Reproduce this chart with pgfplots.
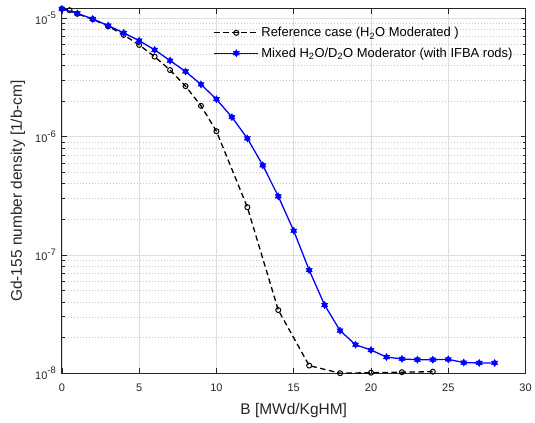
\documentclass[border=0pt]{standalone}
\usepackage{fontspec}
\setmainfont{Liberation Sans}
\usepackage{pgfplots}
\pgfplotsset{compat=1.18}
\definecolor{axgray}{gray}{0.15}
\definecolor{gridmaj}{gray}{0.87}
\definecolor{gridmin}{gray}{0.78}
\pgfdeclareplotmark{hexagram}{%
 \pgfpathmoveto{\pgfqpoint{0pt}{\pgfplotmarksize}}%
 \pgfpathlineto{\pgfqpoint{-0.866\pgfplotmarksize}{-0.5\pgfplotmarksize}}%
 \pgfpathlineto{\pgfqpoint{0.866\pgfplotmarksize}{-0.5\pgfplotmarksize}}%
 \pgfpathclose
 \pgfpathmoveto{\pgfqpoint{0pt}{-\pgfplotmarksize}}%
 \pgfpathlineto{\pgfqpoint{0.866\pgfplotmarksize}{0.5\pgfplotmarksize}}%
 \pgfpathlineto{\pgfqpoint{-0.866\pgfplotmarksize}{0.5\pgfplotmarksize}}%
 \pgfpathclose
 \pgfusepathqfillstroke}
\pgfplotsset{
  longlegend/.style={legend image code/.code={%
    \draw[mark repeat=2,mark phase=2,##1] plot coordinates {(0pt,0pt) (22pt,0pt) (44pt,0pt)};}},
}
\begin{document}
\begin{tikzpicture}
\begin{axis}[
  name=ax, at={(0,0)}, anchor=south west,
  scale only axis, width=464.7pt, height=365.3pt,
  ymode=log, log basis y=10,
  xmin=0, xmax=30, ymin=1e-8, ymax=1.205e-5,
  xtick={0,5,...,30},
  clip=false,
  axis line style={axgray, line width=0.8pt},
  tick style={axgray, line width=0.6pt},
  major tick length=5pt, minor tick length=3pt,
  tick align=inside,
  grid=both,
  major grid style={gridmaj, line width=0.6pt},
  minor grid style={gridmin, line width=0.5pt, dash pattern=on 0.8pt off 2.2pt},
  /pgf/number format/assume math mode=true,
  ticklabel style={font=\fontsize{11}{13}\selectfont, text=axgray},
  xticklabel style={yshift=-7.5pt},
  yticklabel style={xshift=-2.5pt},
  yticklabel={\pgfmathtruncatemacro{\ee}{round(\tick)}10\raisebox{0.5em}{\fontsize{9.5}{10}\selectfont\ee}},
  xlabel={B [MWd/KgHM]},
  ylabel={Gd-155 number density [1/b-cm]},
  label style={font=\fontsize{15.5}{18}\selectfont, text=axgray},
  xlabel style={at={(axis description cs:0.5,-0.1122)}, anchor=base},
  ylabel style={at={(axis description cs:-0.0861,0.5)}, anchor=base},
  legend style={draw=none, fill=none, at={(axis description cs:0.327,0.952)}, anchor=north west,
    font=\fontsize{13}{15}\selectfont, inner sep=0pt, row sep=7.5pt,
    nodes={inner sep=1pt},
    /tikz/every odd column/.append style={column sep=1.5pt}},
  legend cell align=left,
  longlegend,
]
\addplot[black, line width=1.3pt, dash pattern=on 5.5pt off 3.5pt, mark=o, mark size=2.5pt,
  mark options={solid, line width=1pt}] coordinates {
(0,1.2e-5) (0.5,1.17e-5) (1,1.09e-5) (2,9.8e-6) (3,8.55e-6) (4,7.23e-6) (5,5.95e-6)
(6,4.74e-6) (7,3.65e-6) (8,2.67e-6) (9,1.82e-6) (10,1.11e-6) (12,2.53e-7) (14,3.42e-8)
(16,1.16e-8) (18,1.0e-8) (20,1.01e-8) (22,1.02e-8) (24,1.03e-8)};
\addlegendentry{Reference case (H\textsubscript{2}O Moderated )}
\addplot[blue, line width=1.3pt, mark=hexagram, mark size=3.6pt, mark options={solid, line width=0.4pt}] coordinates {
(0,1.2e-5) (1,1.10e-5) (2,9.87e-6) (3,8.67e-6) (4,7.52e-6) (5,6.47e-6) (6,5.41e-6)
(7,4.39e-6) (8,3.55e-6) (9,2.76e-6) (10,2.07e-6) (11,1.46e-6) (12,9.66e-7) (13,5.72e-7)
(14,3.13e-7) (15,1.60e-7) (16,7.44e-8) (17,3.77e-8) (18,2.29e-8) (19,1.74e-8) (20,1.57e-8)
(21,1.37e-8) (22,1.32e-8) (23,1.30e-8) (24,1.30e-8) (25,1.31e-8) (26,1.23e-8) (27,1.22e-8)
(28,1.22e-8)};
\addlegendentry{Mixed H\textsubscript{2}O/D\textsubscript{2}O Moderator (with IFBA rods)}
\end{axis}
\path (ax.south west) ++(-62pt,-49pt) coordinate (bl);
\path (ax.north east) ++(8.3pt,8.7pt) coordinate (tr);
\path (bl) rectangle (tr);
\end{tikzpicture}
\end{document}
